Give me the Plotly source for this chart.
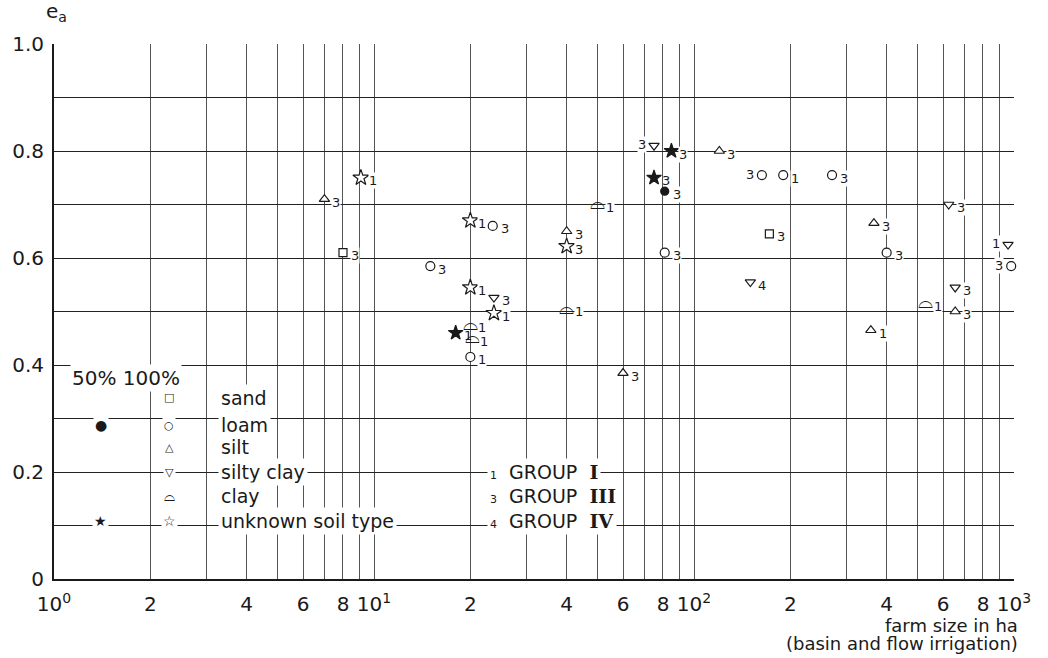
import numpy as np
import plotly.graph_objects as go

# Application efficiency e_a against farm size, basin and flow irrigation
farm_size = [8, 172,
             15, 23.5, 20, 81, 163, 190, 270, 400, 980,
             81,
             7, 40, 60, 120, 365, 357, 655,
             23.7, 75, 625, 150, 655, 958,
             20, 20.3, 50, 40, 530,
             9.1, 20, 40, 20, 23.7,
             18, 85, 75]
ea = [0.61, 0.645,
      0.585, 0.66, 0.415, 0.61, 0.755, 0.755, 0.755, 0.61, 0.585,
      0.725,
      0.71, 0.65, 0.385, 0.80, 0.665, 0.465, 0.50,
      0.526, 0.81, 0.70, 0.555, 0.545, 0.625,
      0.475, 0.45, 0.70, 0.505, 0.515,
      0.75, 0.67, 0.622, 0.545, 0.497,
      0.46, 0.80, 0.75]
soil_type = (["sand"] * 2 + ["loam"] * 9 + ["loam"] + ["silt"] * 7
             + ["silty clay"] * 6 + ["clay"] * 5 + ["unknown"] * 5 + ["unknown"] * 3)
coverage = ([100] * 2 + [100] * 9 + [50] + [100] * 7 + [100] * 6 + [100] * 5
            + [100] * 5 + [50] * 3)
group = [3, 3,
         3, 3, 1, 3, 3, 1, 3, 3, 3,
         3,
         3, 3, 3, 3, 3, 1, 3,
         3, 3, 3, 4, 3, 1,
         1, 1, 1, 1, 1,
         1, 1, 3, 1, 1,
         1, 3, 3]
# group numbers written to the left of the symbol
label_left = [20, 6, 24, 10]

x_tickvals = [m * 10 ** d for d in range(3) for m in range(1, 10)] + [1000]
x_ticktext = []
for d in range(3):
    for m in range(1, 10):
        if m == 1:
            x_ticktext.append(f"10<sup>{d}</sup>")
        elif m % 2 == 0:
            x_ticktext.append(str(m))
        else:
            x_ticktext.append("")
x_ticktext.append("10<sup>3</sup>")
y_tickvals = [round(0.1 * i, 1) for i in range(11)]
y_ticktext = ["0" if v == 0 else (f"{v:.1f}" if i % 2 == 0 else "") for i, v in enumerate(y_tickvals)]

FONT = "DejaVu Sans"
INK = "#1a1a1a"

symbols = {"sand": "square", "loam": "circle", "silt": "triangle-up",
           "silty clay": "triangle-down", "unknown": "star"}
sizes = {"sand": 8, "loam": 9, "silt": 9, "silty clay": 9, "unknown": 12}

# plot area geometry (pixels), used to place labels and test crowding
L, R, T, B = 48, 1014, 44, 579
DEC = (R - L) / 3.0


def px_x(p):
    return (p - L) / (R - L)


def px_y(p):
    return (B - p) / (B - T)


fig = go.Figure()

fs = np.array(farm_size, dtype=float)
ev = np.array(ea, dtype=float)
st = np.array(soil_type)
cv = np.array(coverage)

for soil, sym in symbols.items():
    for cov in (100, 50):
        m = (st == soil) & (cv == cov)
        if not m.any():
            continue
        fig.add_trace(go.Scatter(
            x=fs[m], y=ev[m], mode="markers", showlegend=False, cliponaxis=False,
            marker=dict(symbol=sym, size=sizes[soil] + (0 if cov == 100 else -1),
                        color="white" if cov == 100 else INK,
                        line=dict(color=INK, width=1.2)),
        ))

# clay: dome symbol drawn as a glyph
m = st == "clay"
fig.add_trace(go.Scatter(
    x=fs[m], y=ev[m], mode="text", text=["⌓"] * int(m.sum()), showlegend=False,
    cliponaxis=False, textfont=dict(family=FONT, size=19, color=INK),
))

# group numbers beside each symbol; a white backing interrupts the grid lines
# unless it would hide a neighbouring symbol
mx = L + DEC * np.log10(fs)
my = B - (B - T) * ev
annotations = []
for i, (xv, yv, g) in enumerate(zip(farm_size, ea, group)):
    left = i in label_left
    if left:
        x0, x1 = mx[i] - 22, mx[i] - 2
    else:
        x0, x1 = mx[i] + 2, mx[i] + 22
    y0, y1 = my[i] - 8, my[i] + 14
    crowded = any(
        j != i and x0 <= mx[j] <= x1 and y0 <= my[j] <= y1 for j in range(len(fs))
    )
    annotations.append(dict(
        x=np.log10(xv), y=yv, xref="x", yref="y", text=str(g), showarrow=False,
        xanchor="right" if left else "left", yanchor="middle",
        xshift=-7 if left else 7, yshift=1 if left else -3,
        font=dict(family=FONT, size=13, color=INK),
        bgcolor="rgba(0,0,0,0)" if crowded else "white", borderpad=0,
    ))

# legend block
annotations.append(dict(x=px_x(64), y=px_y(378), xref="paper", yref="paper",
                        text="50% 100%", showarrow=False, xanchor="left",
                        yanchor="middle", font=dict(family=FONT, size=20, color=INK),
                        bgcolor="white"))
legend_rows = [("sand", "□", None, 398), ("loam", "○", "●", 425), ("silt", "△", None, 447),
               ("silty clay", "▽", None, 472), ("clay", "⌓", None, 496),
               ("unknown soil type", "☆", "★", 521)]
for name, open_sym, full_sym, py in legend_rows:
    annotations.append(dict(x=px_x(213), y=px_y(py), xref="paper", yref="paper",
                            text=name, showarrow=False, xanchor="left", yanchor="middle",
                            font=dict(family=FONT, size=19, color=INK), bgcolor="white",
                            borderpad=2))
    sym_size = {"☆": 14, "⌓": 14}.get(open_sym, 11)
    annotations.append(dict(x=px_x(164), y=px_y(py), xref="paper", yref="paper",
                            text=open_sym, showarrow=False, xanchor="center", yanchor="middle",
                            font=dict(family=FONT, size=sym_size, color=INK),
                            bgcolor="white"))
    if full_sym:
        annotations.append(dict(x=px_x(95), y=px_y(py), xref="paper", yref="paper",
                                text=full_sym, showarrow=False, xanchor="center",
                                yanchor="middle",
                                font=dict(family=FONT, size=14, color=INK), bgcolor="white"))

groups = [("1", "I", 472), ("3", "III", 496), ("4", "IV", 521)]
for num, roman, py in groups:
    annotations.append(dict(
        x=px_x(484), y=px_y(py), xref="paper", yref="paper",
        text=(f"<span style='font-size:11px'>{num}</span>  GROUP  "
              f"<span style='font-family:DejaVu Serif'><b>{roman}</b></span>"),
        showarrow=False, xanchor="left", yanchor="middle",
        font=dict(family=FONT, size=19, color=INK), bgcolor="white", borderpad=2))

annotations.append(dict(x=px_x(38), y=px_y(12), xref="paper", yref="paper",
                        text="e<sub>a</sub>", showarrow=False, xanchor="left",
                        yanchor="middle", font=dict(family=FONT, size=20, color=INK)))
annotations.append(dict(x=px_x(1020), y=px_y(625), xref="paper", yref="paper",
                        text="farm size in ha", showarrow=False, xanchor="right",
                        yanchor="middle", font=dict(family=FONT, size=18, color=INK)))
annotations.append(dict(x=px_x(1020), y=px_y(643), xref="paper", yref="paper",
                        text="(basin and flow irrigation)", showarrow=False, xanchor="right",
                        yanchor="middle", font=dict(family=FONT, size=18, color=INK)))

fig.update_layout(
    width=1048, height=658,
    margin=dict(l=L, r=1048 - R, t=T, b=658 - B),
    paper_bgcolor="white", plot_bgcolor="white",
    annotations=annotations,
    showlegend=False,
    font=dict(family=FONT, size=20, color=INK),
)
fig.update_xaxes(
    type="log", range=[0, 3], tickmode="array", tickvals=x_tickvals, ticktext=x_ticktext,
    showgrid=True, gridcolor="#555555", gridwidth=1,
    showline=True, linecolor=INK, linewidth=2, ticks="", ticklabelstandoff=6,
    tickfont=dict(family=FONT, size=20, color=INK), zeroline=False,
)
fig.update_yaxes(
    range=[0, 1], tickmode="array", tickvals=y_tickvals, ticktext=y_ticktext,
    showgrid=True, gridcolor="#222222", gridwidth=1.4,
    showline=True, linecolor=INK, linewidth=2, ticks="", ticklabelstandoff=4,
    tickfont=dict(family=FONT, size=20, color=INK), zeroline=False,
)

fig.write_html("out.html")
